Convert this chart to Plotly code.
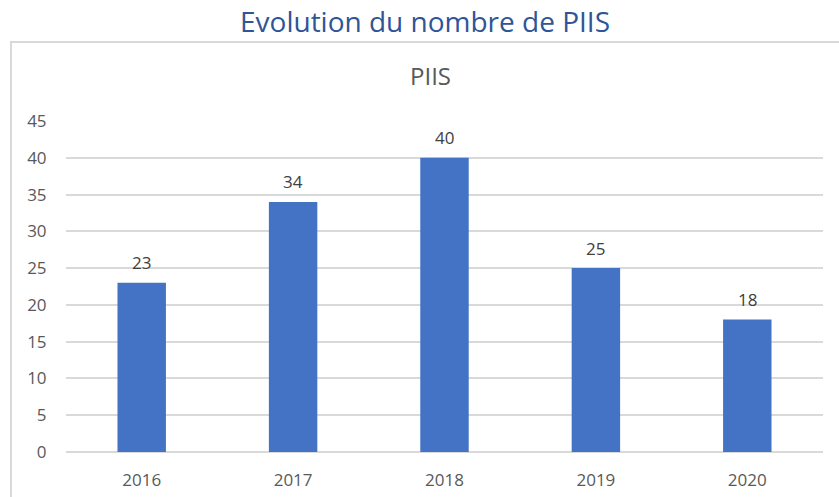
import plotly.graph_objects as go

years = ["2016", "2017", "2018", "2019", "2020"]
piis = [23, 34, 40, 25, 18]
y_ticks = [0, 5, 10, 15, 20, 25, 30, 35, 40, 45]

W, H = 839, 497
L, R, T, B = 66, 16, 121, 45
pw, ph = W - L - R, H - T - B

def px_x(sx):
    return (sx - L) / pw

def px_y(sy):
    return (H - B - sy) / ph

FONT = "Open Sans"

fig = go.Figure()
fig.add_trace(go.Bar(
    x=years, y=piis,
    marker=dict(color="#4472C4", line=dict(width=0)),
    width=0.32,
    hoverinfo="x+y",
))

# category index positions for the value labels
labels = [dict(x=i, y=v, text=str(v), xref="x", yref="y",
               yanchor="middle", xanchor="center", yshift=20, showarrow=False,
               font=dict(family=FONT, size=17, color="#404040"))
          for i, v in enumerate(piis)]

fig.update_layout(
    width=W, height=H,
    margin=dict(l=L, r=R, t=T, b=B),
    paper_bgcolor="white", plot_bgcolor="white",
    showlegend=False,
    font=dict(family=FONT, color="#595959"),
    xaxis=dict(
        type="category", range=[-0.5, len(years) - 0.5], automargin=False,
        showgrid=False, showline=False, zeroline=False,
        ticks="outside", ticklen=13, tickcolor="rgba(0,0,0,0)",
        tickfont=dict(size=17, color="#595959"),
    ),
    yaxis=dict(
        range=[0, 45], tickvals=y_ticks, automargin=False,
        showgrid=True, gridcolor="#D9D9D9", gridwidth=1.5,
        zeroline=True, zerolinecolor="#D9D9D9", zerolinewidth=1.5,
        showline=False,
        ticks="outside", ticklen=15, tickcolor="rgba(0,0,0,0)",
        tickfont=dict(size=17, color="#595959"),
    ),
    shapes=[dict(
        type="rect", xref="paper", yref="paper",
        x0=px_x(11), x1=px_x(870), y0=px_y(530), y1=px_y(42),
        line=dict(color="#D9D9D9", width=2), fillcolor="rgba(0,0,0,0)",
        layer="below",
    )],
    annotations=labels + [
        dict(text="Evolution du nombre de PIIS", xref="paper", yref="paper",
             x=px_x(425), y=px_y(21), xanchor="center", yanchor="middle",
             showarrow=False,
             font=dict(family=FONT, size=28, color="#2F5597")),
        dict(text="PIIS", xref="paper", yref="paper",
             x=px_x(430), y=px_y(76), xanchor="center", yanchor="middle",
             showarrow=False,
             font=dict(family=FONT, size=24, color="#595959")),
    ],
)

fig.write_html("out.html", config={"displayModeBar": False},
               post_script="document.body.style.margin='0px';")
